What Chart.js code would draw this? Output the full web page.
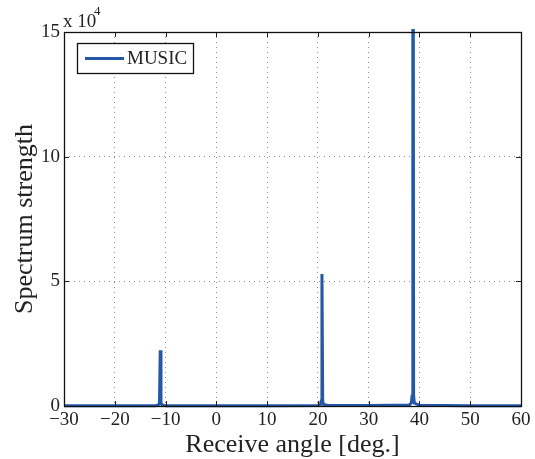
<!DOCTYPE html>
<html>
<head>
<meta charset="utf-8">
<script src="https://cdn.jsdelivr.net/npm/chart.js@4/dist/chart.umd.min.js"></script>
<style>
html,body{margin:0;padding:0;background:#fff;}
#c{display:block;}
</style>
</head>
<body>
<canvas id="c" width="535" height="459"></canvas>
<script>
// Data
const angles = [-30, -20, -12, -11.4, -11.2, -11.05, -10.9, -10.7, -10, 0, 10, 20, 20.5, 20.65, 20.8, 20.95, 21.1, 22, 30, 38, 38.4, 38.55, 38.7, 38.85, 39.0, 40, 50, 60];
const strength = [60, 80, 150, 400, 1200, 22400, 1200, 400, 120, 80, 100, 200, 600, 2000, 52900, 2000, 600, 200, 200, 400, 1200, 4000, 400000, 4000, 1200, 300, 120, 80];
const xTicks = [-30, -20, -10, 0, 10, 20, 30, 40, 50, 60];
const yTicks = [0, 50000, 100000, 150000];
const seriesName = 'MUSIC';

const points = angles.map((a, i) => ({x: a, y: strength[i]}));
const LINE = '#2457a8';
const FONT = '"Liberation Serif", "Times New Roman", serif';

const decor = {
  id: 'decor',
  afterDatasetsDraw(chart) {
    const {ctx, chartArea: a, scales} = chart;
    ctx.save();
    // inward tick marks
    ctx.strokeStyle = '#222';
    ctx.lineWidth = 1;
    ctx.beginPath();
    xTicks.forEach(v => {
      const px = Math.round(scales.x.getPixelForValue(v)) + 0.5;
      ctx.moveTo(px, a.bottom); ctx.lineTo(px, a.bottom - 5);
      ctx.moveTo(px, a.top); ctx.lineTo(px, a.top + 5);
    });
    yTicks.forEach(v => {
      const py = Math.round(scales.y.getPixelForValue(v)) + 0.5;
      ctx.moveTo(a.left, py); ctx.lineTo(a.left + 5, py);
      ctx.moveTo(a.right, py); ctx.lineTo(a.right - 5, py);
    });
    ctx.stroke();
    // box
    ctx.strokeStyle = '#111';
    ctx.lineWidth = 1.3;
    ctx.strokeRect(Math.round(a.left) + 0.5, Math.round(a.top) + 0.5, Math.round(a.right - a.left), Math.round(a.bottom - a.top));
    // exponent label
    ctx.fillStyle = '#222';
    ctx.font = '19px ' + FONT;
    ctx.textBaseline = 'alphabetic';
    ctx.textAlign = 'left';
    ctx.fillText('x 10', a.left - 1, a.top - 5);
    ctx.font = '13px ' + FONT;
    ctx.fillText('4', a.left + 30, a.top - 17);
    // legend box
    const lx = a.left + 13, ly = a.top + 11, lw = 116, lh = 30;
    ctx.fillStyle = '#fff';
    ctx.fillRect(lx, ly, lw, lh);
    ctx.strokeStyle = '#111';
    ctx.lineWidth = 1.3;
    ctx.strokeRect(lx + 0.5, ly + 0.5, lw, lh);
    ctx.strokeStyle = LINE;
    ctx.lineWidth = 3;
    ctx.beginPath();
    ctx.moveTo(lx + 8, ly + lh / 2 + 0.5);
    ctx.lineTo(lx + 47, ly + lh / 2 + 0.5);
    ctx.stroke();
    ctx.fillStyle = '#222';
    ctx.font = '19px ' + FONT;
    ctx.textBaseline = 'middle';
    ctx.fillText(seriesName, lx + 50, ly + lh / 2 + 1.5);
    ctx.restore();
  }
};

new Chart(document.getElementById('c'), {
  type: 'line',
  data: {
    datasets: [{
      label: seriesName,
      data: points,
      borderColor: LINE,
      borderWidth: 3,
      pointRadius: 0,
      tension: 0,
      fill: false,
      clip: 3
    }]
  },
  options: {
    responsive: false,
    animation: false,
    devicePixelRatio: 1,
    layout: {padding: {top: 32, right: 14, bottom: 0, left: 0}},
    plugins: {legend: {display: false}, tooltip: {enabled: false}},
    scales: {
      x: {
        type: 'linear',
        min: -30, max: 60,
        afterBuildTicks(s) { s.ticks = xTicks.map(v => ({value: v})); },
        afterFit(s) { s.height = 53; },
        grid: {color: '#8c8c8c', lineWidth: 1, drawTicks: false},
        border: {display: false, dash: [1, 4]},
        ticks: {
          color: '#222', padding: 3, maxRotation: 0, autoSkip: false,
          font: {family: FONT, size: 19},
          callback: v => v < 0 ? '\u2212' + Math.abs(v) : String(v)
        },
        title: {display: true, text: 'Receive angle [deg.]', color: '#222', font: {family: FONT, size: 26, lineHeight: 1}, padding: {top: 0, bottom: 1}}
      },
      y: {
        type: 'linear',
        min: 0, max: 150000,
        afterBuildTicks(s) { s.ticks = yTicks.map(v => ({value: v})); },
        afterFit(s) { s.width = 64; },
        grid: {color: '#8c8c8c', lineWidth: 1, drawTicks: false},
        border: {display: false, dash: [1, 4]},
        ticks: {
          color: '#222', padding: 4,
          font: {family: FONT, size: 19},
          callback: v => String(v / 10000)
        },
        title: {display: true, text: 'Spectrum strength', color: '#222', font: {family: FONT, size: 26, lineHeight: 1}, padding: {top: 12, bottom: 0}}
      }
    }
  },
  plugins: [decor]
});
</script>
</body>
</html>
